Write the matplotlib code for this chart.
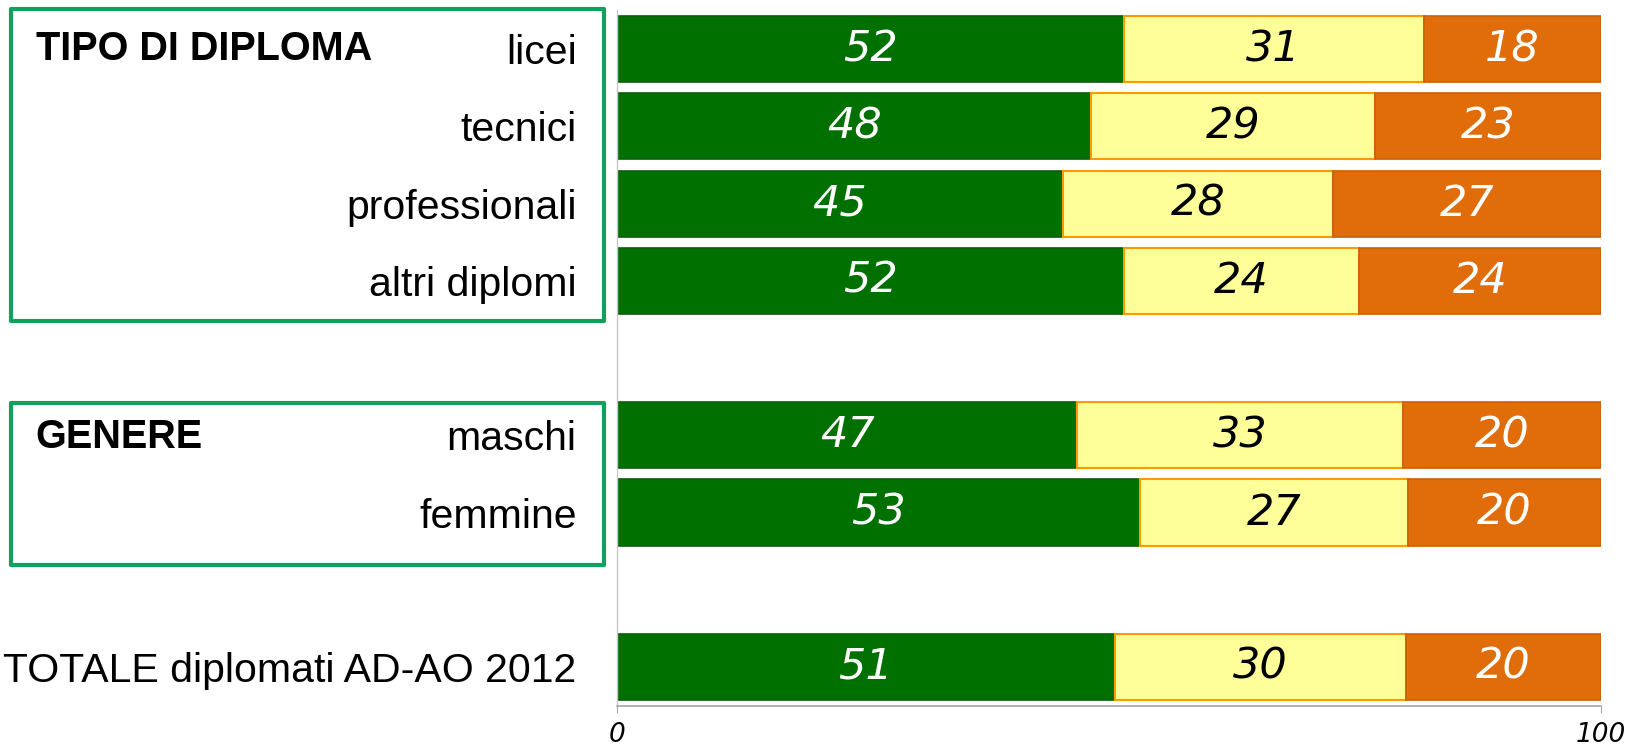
import matplotlib
matplotlib.use("Agg")
import matplotlib.pyplot as plt
import matplotlib.patches as mpatches
import matplotlib.transforms as mtransforms

# Row labels (top to bottom), blank rows leave the gaps between groups
categories = ["licei", "tecnici", "professionali", "altri diplomi",
              "maschi", "femmine", "TOTALE diplomati AD-AO 2012"]
row_pos = [0, 1, 2, 3, 5, 6, 8]

# Segment widths (percent)
green_vals = [51.5, 48.2, 45.3, 51.5, 46.8, 53.2, 50.6]
yellow_vals = [30.5, 28.8, 27.5, 23.9, 33.1, 27.2, 29.6]
orange_vals = [18.0, 23.0, 27.2, 24.6, 20.1, 19.6, 19.8]

# Labels printed inside the bars
green_labels = [52, 48, 45, 52, 47, 53, 51]
yellow_labels = [31, 29, 28, 24, 33, 27, 30]
orange_labels = [18, 23, 27, 24, 20, 20, 20]

group_titles = ["TIPO DI DIPLOMA", "GENERE"]
group_rows = [0, 5]

x_ticks = [0, 100]

label_font = "Liberation Sans"

fig = plt.figure(figsize=(16.27, 7.48), dpi=100)
ax = fig.add_axes([0.3792, 0.0567, 0.6048, 0.9293])

lefts_y = [g for g in green_vals]
lefts_o = [g + y for g, y in zip(green_vals, yellow_vals)]
h = 0.855

ax.barh(row_pos, green_vals, height=h, color="#007000", edgecolor="#0b5e0b", linewidth=1.2)
ax.barh(row_pos, yellow_vals, left=lefts_y, height=h, color="#FFFF99", edgecolor="#FF9900", linewidth=1.5)
ax.barh(row_pos, orange_vals, left=lefts_o, height=h, color="#E06C0A", edgecolor="#C9600C", linewidth=1.2)

for i, r in enumerate(row_pos):
    ax.text(green_vals[i] / 2, r, str(green_labels[i]), ha="center", va="center",
            color="white", fontsize=31, style="italic")
    ax.text(lefts_y[i] + yellow_vals[i] / 2, r, str(yellow_labels[i]), ha="center", va="center",
            color="black", fontsize=31, style="italic")
    ax.text(lefts_o[i] + orange_vals[i] / 2, r, str(orange_labels[i]), ha="center", va="center",
            color="white", fontsize=31, style="italic")

ax.set_xlim(0, 100)
ax.set_ylim(8.5, -0.5)
ax.set_xticks(x_ticks)
ax.set_xticklabels([str(t) for t in x_ticks], fontsize=19, style="italic")
ax.set_yticks(row_pos)
ax.set_yticklabels(categories, family=label_font, fontsize=29.5)
ax.tick_params(axis="y", length=0, pad=29)
ax.tick_params(axis="x", length=5, color="#a6a6a6", pad=7)

ax.spines["top"].set_visible(False)
ax.spines["right"].set_visible(False)
ax.spines["left"].set_color("#c8c8c8")
ax.spines["bottom"].set_color("#a6a6a6")
ax.spines["left"].set_linewidth(1.0)
ax.spines["bottom"].set_linewidth(1.2)

# Group titles on the left
trans = mtransforms.blended_transform_factory(fig.transFigure, ax.transData)
for title, r in zip(group_titles, group_rows):
    ax.text(0.022, r + 0.02 if r else r, title, transform=trans, ha="left", va="center",
            family=label_font, fontsize=28.5, fontweight="bold", clip_on=False)

# Green frames around the groups
for y0, y1 in [(0.5714, 0.9876), (0.2453, 0.4618)]:
    rect = mpatches.Rectangle((0.007, y0), 0.3642, y1 - y0, transform=fig.transFigure,
                              fill=False, edgecolor="#12A05C", linewidth=3.0,
                              joinstyle="round")
    fig.patches.append(rect)

fig.savefig("out.png", dpi=100)
